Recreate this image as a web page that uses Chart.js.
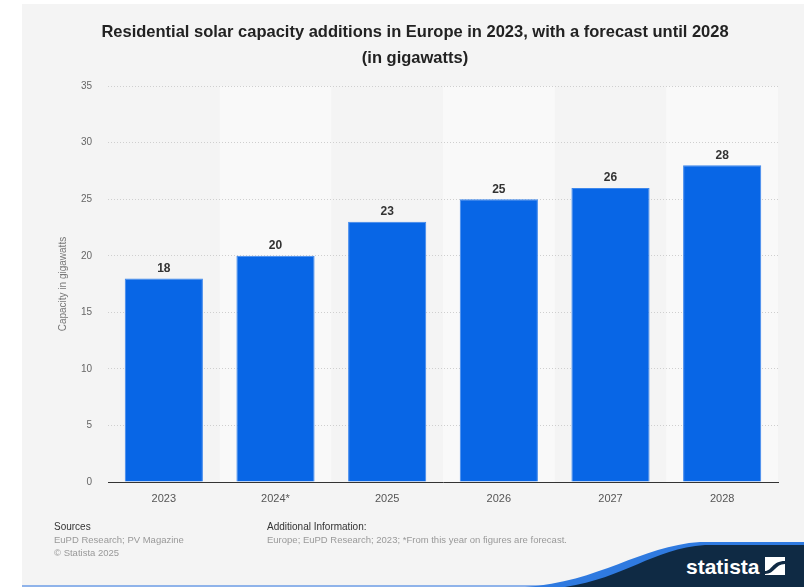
<!DOCTYPE html>
<html>
<head>
<meta charset="utf-8">
<script src="https://cdn.jsdelivr.net/npm/chart.js@4/dist/chart.umd.min.js"></script>
<style>
  html, body { margin: 0; padding: 0; background: #fff; }
  body { width: 804px; height: 588px; position: relative; overflow: hidden; font-family: "Liberation Sans", Arial, sans-serif; }
  #panel { position: absolute; left: 22px; top: 4px; right: 0; bottom: 1px; background: #f4f4f4; border-bottom: 2px solid #8fb3ea; }
  #wrap { position: absolute; left: 0; top: 0; width: 804px; height: 588px; }
  .foot { position: absolute; font-size: 9.5px; line-height: 13px; color: #999; }
  .foot b { font-weight: normal; color: #333; font-size: 10px; }
  #logo { position: absolute; left: 0; top: 0; }
</style>
</head>
<body>
<div id="panel"></div>
<svg id="logo" width="804" height="588">
  <path d="M525 587 C 600 582, 640 546, 700 542 L 804 542 L 804 587 Z" fill="#2f7ae0"/>
  <path d="M565 587 C 625 578, 652 549, 705 545 L 804 545 L 804 587 Z" fill="#0f2a44"/>
  <text x="686" y="574" fill="#fff" font-family="Liberation Sans, Arial, sans-serif" font-weight="bold" font-size="21">statista</text>
  <rect x="765" y="557" width="20" height="18" fill="#fff"/>
  <path d="M765 571 C 772 571, 772 561, 785 561 L 785 564 C 775 564, 775 574, 765 574 Z" fill="#0f2a44"/>
</svg>
<div id="wrap"><canvas id="chart" width="804" height="588"></canvas></div>
<div class="foot" style="left:54px; top:520px;"><b>Sources</b><br>EuPD Research; PV Magazine<br>© Statista 2025</div>
<div class="foot" style="left:267px; top:520px;"><b>Additional Information:</b><br>Europe; EuPD Research; 2023; *From this year on figures are forecast.</div>
<script>
const years = ["2023", "2024*", "2025", "2026", "2027", "2028"];
const capacity = [18, 20, 23, 25, 26, 28];
const yTicks = [0, 5, 10, 15, 20, 25, 30, 35];

const titleLines = [
  "Residential solar capacity additions in Europe in 2023, with a forecast until 2028",
  "(in gigawatts)"
];

// light stripes behind every second column
const stripes = {
  id: "stripes",
  beforeDraw(chart) {
    const { ctx, chartArea, scales } = chart;
    const x = scales.x;
    const w = x.width / years.length;
    ctx.save();
    ctx.fillStyle = "#f9f9f9";
    years.forEach((y, i) => {
      if (i % 2 === 1) {
        const cx = x.getPixelForValue(i);
        ctx.fillRect(cx - w / 2, chartArea.top, w, chartArea.bottom - chartArea.top);
      }
    });
    ctx.restore();
  }
};

// value labels above bars
const valueLabels = {
  id: "valueLabels",
  afterDatasetsDraw(chart) {
    const { ctx } = chart;
    const meta = chart.getDatasetMeta(0);
    ctx.save();
    ctx.font = "bold 12px 'Liberation Sans', Arial, sans-serif";
    ctx.fillStyle = "#333";
    ctx.textAlign = "center";
    ctx.textBaseline = "middle";
    meta.data.forEach((bar, i) => {
      ctx.fillText(String(capacity[i]), bar.x, bar.y - 10);
    });
    ctx.restore();
  }
};

new Chart(document.getElementById("chart"), {
  type: "bar",
  data: {
    labels: years,
    datasets: [{
      data: capacity,
      backgroundColor: "#0866e6",
      borderColor: "#3d87ec",
      borderWidth: { top: 1, left: 1, right: 1, bottom: 0 },
      categoryPercentage: 1,
      barPercentage: 0.7
    }]
  },
  options: {
    responsive: false,
    animation: false,
    events: [],
    layout: { padding: { left: 52, right: 26, top: 0, bottom: 76 } },
    plugins: {
      legend: { display: false },
      tooltip: { enabled: false },
      title: {
        display: true,
        text: titleLines,
        color: "#222",
        font: { family: "'Liberation Sans', Arial, sans-serif", size: 16.5, weight: "bold", lineHeight: 1.58 },
        padding: { top: 19, bottom: 15 }
      }
    },
    scales: {
      x: {
        afterFit: s => { s.height = 30; },
        grid: { display: false, drawTicks: false },
        border: { display: true, color: "#333", width: 1 },
        ticks: { color: "#555", padding: 10, font: { family: "'Liberation Sans', Arial, sans-serif", size: 11 } }
      },
      y: {
        min: 0,
        max: 35,
        afterFit: s => { s.width = 56; },
        afterBuildTicks: s => { s.ticks = yTicks.map(v => ({ value: v })); },
        border: { display: false, dash: [1, 2] },
        grid: {
          drawTicks: false,
          color: c => (c.tick && c.tick.value === 0 ? "rgba(0,0,0,0)" : "#cfcfcf"),
          lineWidth: 1
        },
        ticks: { color: "#666", padding: 16, font: { family: "'Liberation Sans', Arial, sans-serif", size: 10 } },
        title: {
          display: true,
          text: "Capacity in gigawatts",
          color: "#777",
          padding: { top: 5, bottom: 0 },
          font: { family: "'Liberation Sans', Arial, sans-serif", size: 10 }
        }
      }
    }
  },
  plugins: [stripes, valueLabels]
});
</script>
</body>
</html>
